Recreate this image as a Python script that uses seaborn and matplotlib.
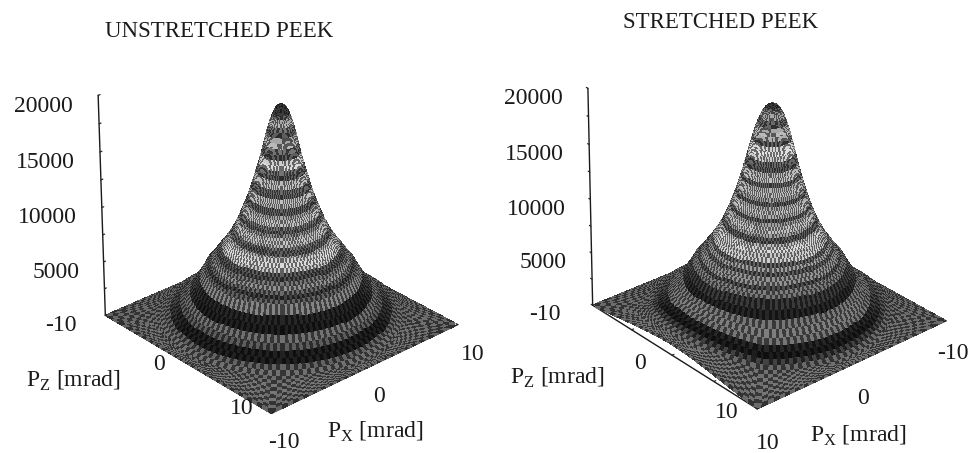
import numpy as np
import seaborn as sns
import matplotlib
matplotlib.use("Agg")
import matplotlib.pyplot as plt

sns.set_theme(style="white")
plt.rcParams['font.family'] = ['Liberation Serif', 'DejaVu Serif']
plt.rcParams['mathtext.fontset'] = 'custom'
plt.rcParams['mathtext.rm'] = 'Liberation Serif'

W, H = 971, 453

ring_r = [0.0,0.1,0.2,0.3,0.4,0.5,0.6,0.7,0.8,0.9,1.0,1.1,1.2,1.3,1.4,1.5,1.6,1.7,1.8,1.9,
          2.0,2.1,2.2,2.3,2.4,2.5,2.6,2.7,2.8,2.9,3.0,3.1,3.2,3.3,3.4,3.5,3.6,3.7,3.8,3.9,
          4.0,4.2,4.4,4.6,4.8,5.0,5.2,5.4,5.6,5.8,6.0,6.4,6.8,7.2,7.6,8.0,8.4,8.8,9.2,9.6]
outer_frac = [0.1,0.2,0.3,0.4,0.5,0.6,0.7,0.8,0.9,1.0]

left_counts = [19600,19580,19520,19420,19280,19100,18880,18620,18320,17980,17600,17200,16770,16330,15880,15440,15000,14610,14230,13860,
               13500,13140,12780,12420,12060,11700,11400,11120,10840,10570,10300,10030,9770,9510,9260,9000,8780,8570,8360,8150,
               7950,7600,7260,6950,6660,6400,6080,5780,5480,5210,4950,4150,3450,2850,2300,1850,1450,1100,800,530,
               420,330,260,200,150,105,70,40,15,0]
left_grey = [.18,.18,.18,.18,.18,.18,.30,.50,.55,.35,.28,.50,.56,.35,.28,.62,.66,.35,.28,.56,
             .58,.32,.30,.58,.56,.30,.30,.50,.58,.58,.35,.28,.42,.56,.60,.56,.35,.28,.30,.50,
             .62,.66,.60,.28,.24,.36,.44,.32,.20,.30,.40,.12,.10,.34,.28,.10,.10,.30,.34,.33,
             .33,.36,.33,.36,.33,.36,.33,.33,.30,.30]

right_counts_pz = [19300,19290,19250,19190,19100,18990,18850,18680,18480,18250,17990,17700,17380,17040,16680,16300,15900,15490,15070,14640,
                   14210,13800,13400,13010,12630,12260,11900,11560,11230,10910,10600,10300,10010,9730,9460,9200,8950,8720,8490,8270,
                   8060,7660,7290,6950,6640,6350,6030,5730,5450,5190,4940,4150,3450,2850,2300,1850,1450,1100,800,530,
                   420,330,260,200,150,105,70,40,15,0]
right_counts_px = [19300,19290,19250,19190,19100,18990,18850,18680,18480,18250,17990,17700,17380,17040,16680,16300,15900,15490,15070,14640,
                   14210,13800,13400,13010,12630,12260,11900,11560,11230,10910,10600,10300,10010,9730,9460,9200,8950,8720,8490,8270,
                   8060,7660,7290,6950,6640,6350,6030,5730,5450,5190,4940,4250,3700,3300,2950,2650,2400,2170,1970,1800,
                   1650,1520,1410,1320,1240,1170,1110,1060,1030,1000]
right_grey = [.18,.18,.18,.18,.20,.30,.42,.50,.50,.32,.30,.50,.56,.52,.30,.64,.68,.62,.32,.28,
              .56,.58,.30,.54,.58,.48,.28,.52,.58,.52,.28,.48,.58,.58,.48,.28,.28,.56,.64,.66,
              .60,.62,.30,.48,.28,.44,.44,.24,.38,.36,.18,.12,.36,.38,.36,.12,.09,.20,.32,.34,
              .34,.36,.34,.36,.34,.36,.34,.34,.32,.32]

z_ticks = [0,2500,5000,7500,10000,12500,15000,17500,20000]
z_value_labels = [5000,10000,15000,20000]
p_ticks = [-10,-5,0,5,10]
p_value_labels = [-10,0,10]
titles = ['UNSTRETCHED PEEK','STRETCHED PEEK']
x_label = r'P$_{\mathrm{X}}$ [mrad]'
y_label = r'P$_{\mathrm{Z}}$ [mrad]'

grey_map = sns.color_palette("gray", as_cmap=True)

def surface(ax, counts_a, counts_b, grey, flip, pz_off, px_off, focal):
    sign = -1 if flip else 1
    theta = np.linspace(0, 2*np.pi, 181)
    c, s = np.cos(theta), np.sin(theta)
    edge = 10/np.maximum(np.abs(c), np.abs(s))
    r_in = np.array(ring_r)
    R = np.vstack([np.outer(r_in, np.ones_like(theta)),
                   np.array([r_in[-1] + (edge-r_in[-1])*f for f in outer_frac])])
    R = np.minimum(R, edge)
    X, Y = R*c, R*s
    w = np.clip(-np.cos(2*theta), 0, 1) * (s*sign < 0)
    Z = np.outer(counts_a, 1-w) + np.outer(counts_b, w)
    fade = np.clip(0.55 + 1.1*np.cos(theta + sign*np.deg2rad(42)), 0, 1)
    g = 0.30 + np.outer(np.array(grey) - 0.30, fade)
    ii, jj = np.indices(g.shape)
    check = np.where((ii+jj) % 2 == 0, 1.3, 0.62)
    fc = grey_map(np.clip(g*check, 0, 1))
    ax.plot_surface(X, Y, Z, facecolors=fc, rstride=1, cstride=1, shade=False,
                    linewidth=0.3, antialiased=False)
    ax.set_xlim(-10,10)
    ax.set_ylim(*( (10,-10) if flip else (-10,10) ))
    ax.set_zlim(0,20000)
    ax.set_xticks(p_ticks)
    ax.set_yticks(p_ticks)
    ax.set_zticks(z_ticks)
    ax.xaxis.set_major_formatter(plt.NullFormatter())
    ax.yaxis.set_major_formatter(plt.NullFormatter())
    ax.zaxis.set_major_formatter(plt.NullFormatter())
    ax.grid(False)
    ax.patch.set_alpha(0)
    for a in (ax.xaxis, ax.yaxis, ax.zaxis):
        a.set_pane_color((1,1,1,0))
        a.pane.set_edgecolor((1,1,1,0))
        a.line.set_color('k')
        a.line.set_linewidth(1.0)
        a._axinfo['tick'].update({'inward_factor':0.0,'outward_factor':0.12,'linewidth':{True:0.9,False:0.7}})
        a._axinfo['axisline']['color']='k'
        a.offsetText.set_visible(False)
        a.label.set_visible(False)
    for t in (ax.title, ax._left_title, ax._right_title):
        t.set_visible(False)
    ax.zaxis.set_ticks_position('upper' if flip else 'lower')
    ax.set_proj_type('persp', focal_length=focal)
    for v in z_value_labels:
        ax.text(-11.4, -sign*11.4, v - 1000, str(v), fontsize=17, color='k', ha='right', va='center')
    for t, (d, z) in zip(p_value_labels, pz_off):
        ax.text(t, -sign*d, z, str(t), fontsize=17, color='k', ha='center', va='center')
    for t, (d, z) in zip(p_value_labels, px_off):
        ax.text(d, sign*t, z, str(sign*t), fontsize=17, color='k', ha='center', va='center')

fig = plt.figure(figsize=(W/100, H/100), dpi=100, facecolor='white')

def make_ax(cx, cy, size):
    return fig.add_axes([(cx-size/2)/W, 1-(cy+size/2)/H, size/W, size/H], projection='3d')

ax1 = make_ax(275, 218, 450)
ax1.set_box_aspect((1,1,0.98), zoom=0.945)
ax1.view_init(elev=28, azim=-42, roll=0)
surface(ax1, left_counts, left_counts, left_grey, False,
        [(14.5,850),(12.7,1000),(13.0,1700)], [(11.4,-2000),(11.4,-2000),(11.8,-2000)], 1.2)

ax2 = make_ax(764.5, 213, 450)
ax2.set_box_aspect((1,1,0.96), zoom=0.945)
ax2.view_init(elev=28, azim=-42, roll=-1.0)
surface(ax2, right_counts_pz, right_counts_px, right_grey, True,
        [(14.7,1000),(13.2,500),(13.0,1000)], [(11.3,-2500),(11.1,-2800),(11.0,-2650)], 1.0)

def label(x, y, s, size=17):
    fig.text(x/W, 1-y/H, s, fontsize=size, color='k', ha='left', va='baseline')

fig.text(219/W, 1-37/H, titles[0], fontsize=16.5, color='k', ha='center', va='baseline')
fig.text(721/W, 1-28/H, titles[1], fontsize=16.5, color='k', ha='center', va='baseline')
label(26, 387, y_label); label(327, 438, x_label)
label(510, 384, y_label); label(810, 442, x_label)

fig.savefig('out.png', dpi=100)
